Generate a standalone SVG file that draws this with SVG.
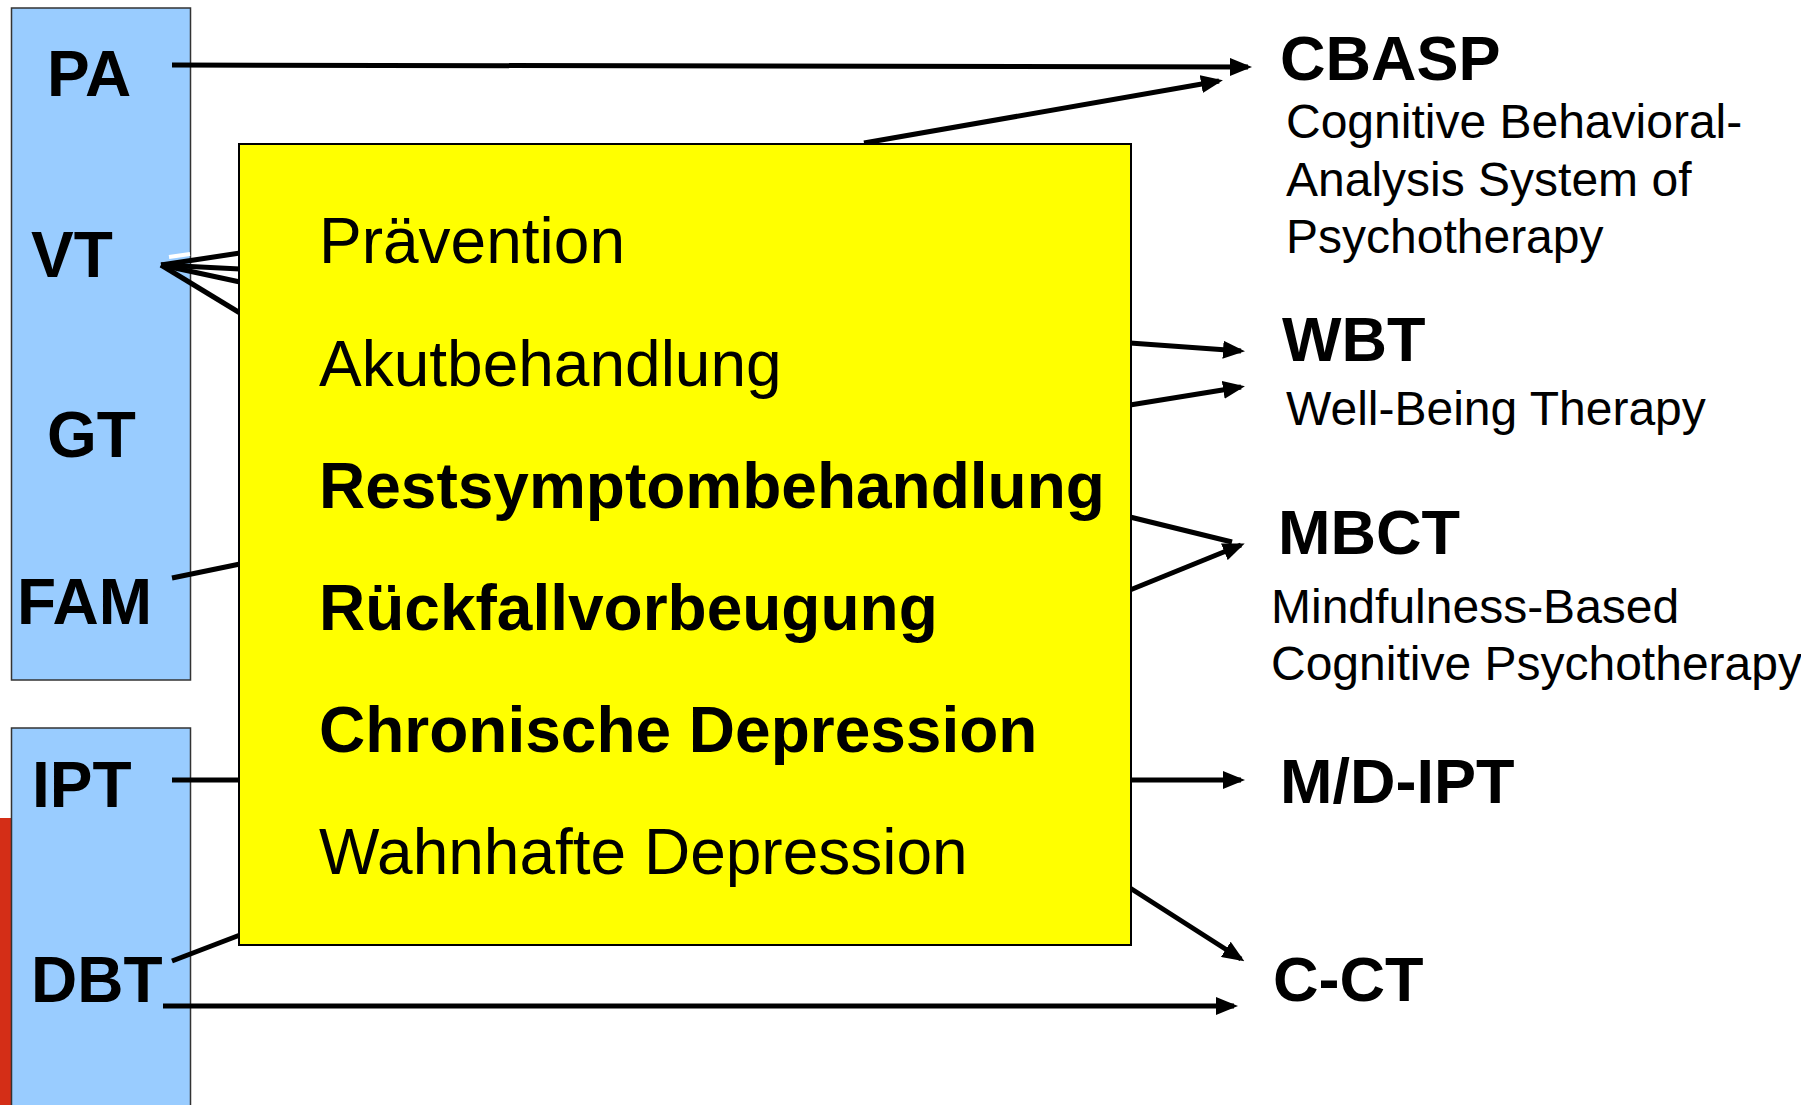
<svg xmlns="http://www.w3.org/2000/svg" width="1801" height="1105" viewBox="0 0 1801 1105">
  <style>
    .bg { fill: #FFFFFF; }
    .col { fill: #99CCFF; stroke: #333333; stroke-width: 1.5; }
    .core { fill: #FFFF00; stroke: #000000; stroke-width: 2; }
    .lbl { font-family: "Liberation Sans", Arial, sans-serif; font-weight: bold; font-size: 64px; fill: #000; }
    .tgt { font-family: "Liberation Sans", Arial, sans-serif; font-weight: bold; font-size: 63px; fill: #000; }
    .sub { font-family: "Liberation Sans", Arial, sans-serif; font-size: 48px; fill: #000; }
    .item { font-family: "Liberation Sans", Arial, sans-serif; font-size: 64px; fill: #000; }
    .item-b { font-weight: bold; }
    .edge { fill: none; stroke: #000; stroke-width: 5; }
    .arrow { marker-end: url(#head); }
  </style>
  <defs>
    <marker id="head" markerUnits="userSpaceOnUse" markerWidth="22" markerHeight="18" viewBox="0 0 22 18" refX="18" refY="9" orient="auto">
      <path d="M0,0 L22,9 L0,18 Z" fill="#000"/>
    </marker>
  </defs>

  <rect class="bg" x="0" y="0" width="1801" height="1105"/>

  <!-- red edge strip at the lower left -->
  <rect x="0" y="818" width="12" height="287" fill="#D42E17"/>

  <!-- left column: therapy schools -->
  <g id="schools-upper">
    <rect class="col" x="11.5" y="8" width="179" height="672"/>
    <text class="lbl" x="47" y="96">PA</text>
    <text class="lbl" x="31" y="277">VT</text>
    <text class="lbl" x="47" y="457">GT</text>
    <text class="lbl" x="17" y="624">FAM</text>
  </g>
  <g id="schools-lower">
    <rect class="col" x="11.5" y="728" width="179" height="390"/>
    <text class="lbl" x="32" y="807">IPT</text>
    <text class="lbl" x="31" y="1002">DBT</text>
  </g>

  <!-- connectors -->
  <g id="connectors">
    <line class="edge arrow" x1="172" y1="65" x2="1248" y2="67"/>
    <line class="edge arrow" x1="864" y1="143" x2="1219" y2="81"/>
    <!-- VT fan -->
    <line class="edge" x1="161" y1="265" x2="240" y2="253"/>
    <line class="edge" x1="161" y1="265" x2="240" y2="269"/>
    <line class="edge" x1="161" y1="265" x2="240" y2="282"/>
    <line class="edge" x1="161" y1="265" x2="240" y2="313"/>
    <line x1="169" y1="257" x2="190" y2="254" stroke="#FFFFFF" stroke-width="4"/>
    <!-- FAM, IPT, DBT links -->
    <line class="edge" x1="172" y1="578" x2="240" y2="564"/>
    <line class="edge" x1="172" y1="780" x2="240" y2="780"/>
    <line class="edge" x1="172" y1="961" x2="240" y2="935"/>
    <line class="edge arrow" x1="163" y1="1006" x2="1234" y2="1006"/>
    <!-- right side -->
    <line class="edge arrow" x1="1130" y1="343" x2="1241" y2="351"/>
    <line class="edge arrow" x1="1130" y1="405" x2="1241" y2="387"/>
    <line class="edge" x1="1130" y1="517" x2="1232" y2="542"/>
    <line class="edge arrow" x1="1130" y1="590" x2="1241" y2="545"/>
    <line class="edge arrow" x1="1130" y1="780" x2="1241" y2="780"/>
    <line class="edge arrow" x1="1130" y1="888" x2="1241" y2="959"/>
  </g>

  <!-- central box: phases -->
  <g id="phases">
    <rect class="core" x="239" y="144" width="892" height="801"/>
    <text class="item" x="319" y="263">Prävention</text>
    <text class="item" x="319" y="386">Akutbehandlung</text>
    <text class="item item-b" x="319" y="508">Restsymptombehandlung</text>
    <text class="item item-b" x="319" y="630">Rückfallvorbeugung</text>
    <text class="item item-b" x="319" y="752">Chronische Depression</text>
    <text class="item" x="319" y="874">Wahnhafte Depression</text>
  </g>

  <!-- right column: specific approaches -->
  <g id="cbasp">
    <text class="tgt" x="1280" y="80">CBASP</text>
    <text class="sub" x="1286" y="138">Cognitive Behavioral-</text>
    <text class="sub" x="1286" y="196">Analysis System of</text>
    <text class="sub" x="1286" y="253">Psychotherapy</text>
  </g>
  <g id="wbt">
    <text class="tgt" x="1282" y="361">WBT</text>
    <text class="sub" x="1286" y="425">Well-Being Therapy</text>
  </g>
  <g id="mbct">
    <text class="tgt" x="1278" y="554">MBCT</text>
    <text class="sub" x="1271" y="623">Mindfulness-Based</text>
    <text class="sub" x="1271" y="680">Cognitive Psychotherapy</text>
  </g>
  <g id="md-ipt">
    <text class="tgt" x="1280" y="803">M/D-IPT</text>
  </g>
  <g id="c-ct">
    <text class="tgt" x="1273" y="1001">C-CT</text>
  </g>
</svg>
